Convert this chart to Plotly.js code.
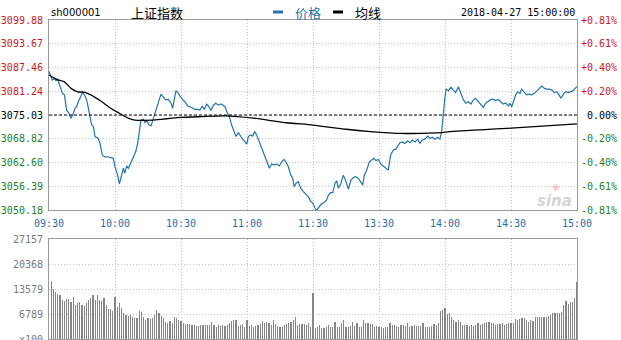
<!DOCTYPE html>
<html>
<head>
<meta charset="utf-8">
<script src="https://cdn.plot.ly/plotly-3.0.1.min.js"></script>
<style>
html,body{margin:0;padding:0;background:#fff;}
#chart{width:621px;height:340px;}
</style>
</head>
<body>
<div id="chart"></div>
<script>
// ---------- DATA ----------
const symbol = 'sh000001';
const indexName = '上证指数';
const stamp = '2018-04-27 15:00:00';
const seriesNames = ['价格', '均线'];
const prevClose = 3075.03;

// trading-minute offsets from 09:30 (lunch break removed) and prices
const priceMin = [0,1.5,2.4,3.2,3.9,5.0,6.1,7.0,8.0,9.1,10.0,11.1,11.8,12.6,13.3,14.4,15.2,16.1,17.1,17.9,
  18.6,19.4,20.2,20.9,22.4,23.2,24.2,25.5,26.7,27.7,29.2,30.0,31.2,32.0,33.0,33.8,34.5,35.3,36.1,37.3,
  38.3,39.4,40.3,40.9,41.8,42.9,43.6,44.4,45.5,46.4,47.4,48.5,49.7,50.9,52.0,53.0,54.2,55.5,56.2,57.0,
  57.7,58.5,59.5,60.6,61.8,63.0,64.1,65.2,66.4,67.6,68.6,69.7,70.6,71.7,72.7,73.6,74.7,75.8,77.0,78.2,
  79.2,80.0,81.1,82.0,83.0,84.1,85.0,86.1,87.1,88.0,89.1,89.9,90.6,91.7,92.6,93.5,94.4,95.6,96.7,97.7,
  98.9,100.2,101.2,102.3,103.5,104.7,105.8,106.8,107.7,108.8,109.9,110.8,111.4,112.3,113.3,114.4,115.6,116.8,117.9,118.9,
  119.9,120.9,121.7,122.9,124.0,125.0,126.2,127.0,128.0,129.0,130.0,130.8,131.5,132.6,133.8,135.0,136.1,137.1,138.0,139.1,
  140.2,141.4,142.6,143.3,144.4,145.6,146.7,147.7,148.6,149.7,150.8,152.0,153.2,154.2,155.3,156.5,157.7,158.8,159.5,160.6,
  161.8,163.0,164.1,165.2,166.4,167.6,168.6,169.7,170.9,172.1,173.2,174.2,175.5,176.7,177.7,178.5,179.2,180.0,180.5,181.5,
  182.7,183.8,184.8,186.1,187.3,188.3,189.4,190.6,191.8,192.9,193.9,195.2,196.4,197.4,198.5,199.7,200.9,202.0,203.0,204.2,
  205.5,206.5,207.6,208.8,209.5,210.3,211.1,212.1,213.0,214.1,214.8,216.1,217.1,218.2,219.4,220.6,221.7,222.7,224.0,225.2,
  226.2,227.3,228.5,229.7,230.8,231.8,232.7,233.8,234.9,236.1,237.3,238.3,239.1,240.0];
const price = [3086.5,3084.2,3084.6,3084.0,3084.4,3082.4,3080.7,3080.3,3076.3,3075.5,3074.2,3075.5,3076.8,3077.2,3078.5,3079.8,3081.0,3080.3,3079.0,3076.8,
  3074.2,3072.4,3072.0,3069.4,3068.9,3067.6,3064.6,3064.0,3064.1,3064.0,3063.7,3061.5,3059.3,3057.0,3059.3,3061.1,3059.8,3061.7,3061.1,3062.8,
  3064.1,3065.4,3067.6,3070.7,3073.7,3073.9,3073.0,3073.7,3072.4,3072.2,3074.2,3076.3,3078.5,3080.5,3079.7,3079.0,3079.1,3078.1,3076.8,3079.8,
  3081.4,3080.9,3080.0,3079.1,3078.5,3077.4,3077.2,3076.8,3076.5,3076.5,3076.3,3077.4,3076.5,3077.9,3077.2,3076.2,3077.6,3078.1,3077.6,3077.9,
  3077.4,3077.2,3075.5,3074.6,3072.4,3070.7,3069.4,3070.4,3069.4,3068.7,3068.0,3067.4,3069.4,3069.8,3069.5,3070.7,3069.8,3068.0,3066.6,3065.0,
  3063.3,3061.1,3062.2,3062.0,3062.2,3061.7,3062.8,3063.4,3062.8,3061.5,3059.3,3058.5,3056.3,3057.2,3057.6,3055.9,3055.0,3054.2,3053.6,3052.5,
  3052.0,3050.7,3050.1,3051.1,3051.8,3052.1,3052.8,3054.1,3054.7,3054.7,3057.2,3057.8,3055.9,3057.0,3059.3,3057.6,3055.6,3057.8,3058.5,3058.9,
  3058.7,3057.8,3056.7,3059.3,3060.6,3062.8,3063.4,3063.7,3063.1,3063.4,3062.2,3061.7,3061.1,3060.6,3064.6,3065.9,3066.1,3067.2,3067.8,3068.0,
  3067.6,3068.3,3067.8,3068.5,3068.0,3068.7,3067.6,3068.5,3068.7,3069.5,3068.9,3069.2,3068.7,3069.2,3068.7,3070.7,3075.5,3079.8,3081.8,3081.4,
  3082.3,3081.6,3080.9,3082.4,3080.3,3079.1,3078.1,3078.5,3077.9,3079.0,3079.4,3078.5,3077.4,3077.0,3078.1,3078.5,3079.1,3079.1,3078.8,3079.1,
  3078.5,3077.9,3078.2,3077.4,3078.1,3077.2,3078.5,3080.3,3081.1,3080.7,3081.8,3081.1,3080.3,3080.5,3080.3,3080.7,3081.4,3082.0,3082.6,3082.0,
  3081.8,3081.8,3081.6,3080.9,3081.1,3080.3,3079.4,3080.5,3081.1,3080.9,3081.1,3081.4,3082.0,3082.4];

// average-price line
const avgMin = [0,4,7,10,13,16,19,24,28,32,36,39,47,51,56,60,69,80,93,108,120,135,146,160,178,182,210,240];
const avgPrice = [3085.5,3084.2,3083.7,3082.0,3081.1,3081.0,3080.3,3078.5,3076.8,3075.5,3074.2,3073.7,3073.7,3073.9,3074.2,3074.4,3074.6,3074.8,3074.2,3073.0,
  3072.4,3071.3,3070.7,3070.2,3070.4,3070.7,3071.6,3072.7];

// volume (x100 lots) per minute: morning minutes 1..120, afternoon minutes 121..240
const volAM = [15700,13580,12940,12300,12000,10680,10500,10950,10860,10230,
  11400,9320,9770,10140,9320,9140,9950,10680,11130,11950,
  10680,12040,10680,10500,11220,9320,8240,8240,7780,11400,
  8690,9950,8600,7060,6610,6340,6610,5970,5880,5700,
  7690,7330,5970,5250,5880,5520,5700,6610,7960,7240,
  6340,5700,4800,4530,5070,4340,6150,5700,5250,4980,
  4340,4070,4160,4160,3980,3890,3710,3620,3890,3800,
  3980,3800,3890,4710,3890,3440,3890,3620,3890,3620,
  3800,4340,4890,5250,5250,3620,3890,4070,3440,5250,
  3620,3890,3440,3620,3890,4160,5070,4340,4800,4530,
  3890,5250,4160,3620,3260,3440,3890,4160,4530,4800,
  5250,5970,3890,4070,4160,4070,3890,4340,3260,12670];
const volPM = [3170,3260,3890,2990,2990,3260,3890,3260,3440,4800,
  3440,3260,4340,5250,3440,3440,3620,4800,3620,4340,
  3440,3260,5250,4530,4340,4070,4070,3440,3620,3440,
  3260,2990,3260,3260,4340,3890,3890,3620,3440,3890,
  3800,3620,4340,3440,3620,3890,3620,3620,3620,4340,
  3440,3440,3440,3620,4070,3890,4340,7780,7960,8420,
  6880,7060,5970,5250,4800,5250,4800,3890,3890,3890,
  3620,3890,3620,3890,4340,3890,4160,4530,4800,4800,
  4340,4340,3890,4070,4160,4340,3890,4160,4340,4530,
  4340,5430,5250,5430,5700,5700,5250,4800,5250,5070,
  5970,5970,6150,5970,6150,5970,6340,6610,7060,7060,
  7240,7240,7510,9320,10500,9590,10230,10230,11130,15390];

// axis ticks / labels
const timeTicks = [0,30,60,90,120,150,180,210,240];
const timeLabels = ['09:30','10:00','10:30','11:00','11:30','13:30','14:00','14:30','15:00'];
const priceTicks = [3050.18,3056.39,3062.60,3068.82,3075.03,3081.24,3087.46,3093.67,3099.88];
const pctLabels = ['-0.81%','-0.61%','-0.40%','-0.20%','0.00%','+0.20%','+0.40%','+0.61%','+0.81%'];
const volTicks = [0,6789,13579,20368,27157];
const volLabels = ['x100','6789','13579','20368','27157'];

// ---------- STYLE ----------
const RED = '#cc1a1a', GREEN = '#237f23', BLUE = '#2474ac', TICKBLUE = '#1f6fb0';
const GRID = '#c4c4c4', FRAME = '#9a9a9a';
const MONO = 'DejaVu Sans Mono, monospace';
const CJK = 'Noto Sans CJK SC, sans-serif';

const volMinAM = volAM.map((_, i) => i + 1);
const volMinPM = volPM.map((_, i) => i + 121);

function tone(v) { return v > prevClose ? RED : (v < prevClose ? GREEN : '#000'); }
const leftText = priceTicks.map(v => '<span style="color:' + tone(v) + '">' + v.toFixed(2) + '</span>');
const rightText = priceTicks.map((v, i) => {
  let s = pctLabels[i];
  while (s.length < 6) s = '\u00a0' + s;
  return '<span style="color:' + tone(v) + '">' + s + '</span>';
});

const traces = [
  { type: 'scatter', mode: 'lines', x: priceMin, y: price, xaxis: 'x', yaxis: 'y',
    line: { color: BLUE, width: 1.2 }, hoverinfo: 'skip' },
  { type: 'scatter', mode: 'lines', x: avgMin, y: avgPrice, xaxis: 'x', yaxis: 'y',
    line: { color: '#000', width: 1.3, shape: 'spline', smoothing: 0.6 }, hoverinfo: 'skip' },
  { type: 'scatter', mode: 'lines', x: [timeTicks[0], timeTicks[timeTicks.length - 1]], y: [prevClose, prevClose],
    xaxis: 'x', yaxis: 'y3', line: { color: '#000', width: 1, dash: '3px,2px' }, hoverinfo: 'skip' },
  { type: 'bar', x: volMinAM.concat(volMinPM), y: volAM.concat(volPM), xaxis: 'x2', yaxis: 'y2',
    width: 0.5, marker: { color: '#858585', line: { width: 0 } }, hoverinfo: 'skip' }
];

const L = 49, R = 44, T = 20, B = 0, W = 621, H = 340;
const px = x => (x - L) / (W - L - R);
const py = y => (H - B - y) / (H - T - B);

const yPriceBottom = py(210);
const yVolTop = py(239), yVolBottom = py(339.3);

const common = { zeroline: false, fixedrange: true, showline: true, mirror: true, linecolor: FRAME, linewidth: 1,
  gridcolor: GRID, griddash: '1px,2px', gridwidth: 1, ticks: '', ticklen: 0, ticklabeloverflow: 'allow' };

const layout = {
  width: W, height: H,
  margin: { l: L, r: R, t: T, b: B, pad: 0 },
  paper_bgcolor: '#fff', plot_bgcolor: '#fff',
  showlegend: false,
  bargap: 0,
  xaxis: Object.assign({}, common, { domain: [0, 1], anchor: 'y', range: [0, 240],
    tickmode: 'array', tickvals: timeTicks, ticktext: timeLabels, showgrid: true, ticklabelstandoff: 4,
    tickfont: { family: MONO, size: 10, color: TICKBLUE } }),
  yaxis: Object.assign({}, common, { domain: [yPriceBottom, 1], anchor: 'x', range: [priceTicks[0], priceTicks[priceTicks.length - 1]],
    tickmode: 'array', tickvals: priceTicks, ticktext: leftText, showgrid: true, ticklabelstandoff: 3,
    tickfont: { family: MONO, size: 10, color: '#000' } }),
  yaxis3: { overlaying: 'y', side: 'right', anchor: 'x', range: [priceTicks[0], priceTicks[priceTicks.length - 1]],
    tickmode: 'array', tickvals: priceTicks, ticktext: rightText, showgrid: false, zeroline: false, showline: false,
    ticks: '', ticklen: 0, fixedrange: true, ticklabelstandoff: 3, ticklabeloverflow: 'allow',
    tickfont: { family: MONO, size: 10, color: '#000' } },
  xaxis2: Object.assign({}, common, { domain: [0, 1], anchor: 'y2', range: [0, 240],
    tickmode: 'array', tickvals: timeTicks, showticklabels: false, showgrid: true }),
  yaxis2: Object.assign({}, common, { domain: [yVolBottom, yVolTop], anchor: 'x2', range: [volTicks[0], volTicks[volTicks.length - 1]],
    tickmode: 'array', tickvals: volTicks, ticktext: volLabels, showgrid: true, ticklabelstandoff: 3,
    tickfont: { family: MONO, size: 10, color: '#7a7a7a' } }),
  shapes: [
    { type: 'rect', xref: 'paper', yref: 'paper', x0: px(273), x1: px(283), y0: py(13.5), y1: py(10.5), fillcolor: BLUE, line: { width: 0 } },
    { type: 'rect', xref: 'paper', yref: 'paper', x0: px(333), x1: px(343), y0: py(13.5), y1: py(10.5), fillcolor: '#000', line: { width: 0 } }
  ],
  annotations: [
    { xref: 'paper', yref: 'paper', x: px(49), y: py(12), xanchor: 'left', yanchor: 'middle', showarrow: false,
      text: symbol, font: { family: 'DejaVu Sans, sans-serif', size: 10, color: '#000' } },
    { xref: 'paper', yref: 'paper', x: px(129), y: py(12), xanchor: 'left', yanchor: 'middle', showarrow: false,
      text: indexName, font: { family: CJK, size: 13, color: '#000' } },
    { xref: 'paper', yref: 'paper', x: px(293), y: py(12), xanchor: 'left', yanchor: 'middle', showarrow: false,
      text: seriesNames[0], font: { family: CJK, size: 13, color: BLUE } },
    { xref: 'paper', yref: 'paper', x: px(353), y: py(12), xanchor: 'left', yanchor: 'middle', showarrow: false,
      text: seriesNames[1], font: { family: CJK, size: 13, color: '#000' } },
    { xref: 'paper', yref: 'paper', x: px(577), y: py(13), xanchor: 'right', yanchor: 'middle', showarrow: false,
      text: stamp, font: { family: MONO, size: 10, color: '#000' } },
    { xref: 'paper', yref: 'paper', x: px(574), y: py(201), xanchor: 'right', yanchor: 'middle', showarrow: false,
      text: '<b><i>sina</i></b>', font: { family: 'DejaVu Sans, sans-serif', size: 15, color: 'rgba(175,175,175,0.55)' } },
    { xref: 'paper', yref: 'paper', x: px(556), y: py(187), xanchor: 'center', yanchor: 'middle', showarrow: false,
      text: '◉', font: { family: 'DejaVu Sans, sans-serif', size: 9, color: 'rgba(230,120,130,0.45)' } }
  ]
};

Plotly.newPlot('chart', traces, layout, { staticPlot: true, displayModeBar: false });
</script>
</body>
</html>
